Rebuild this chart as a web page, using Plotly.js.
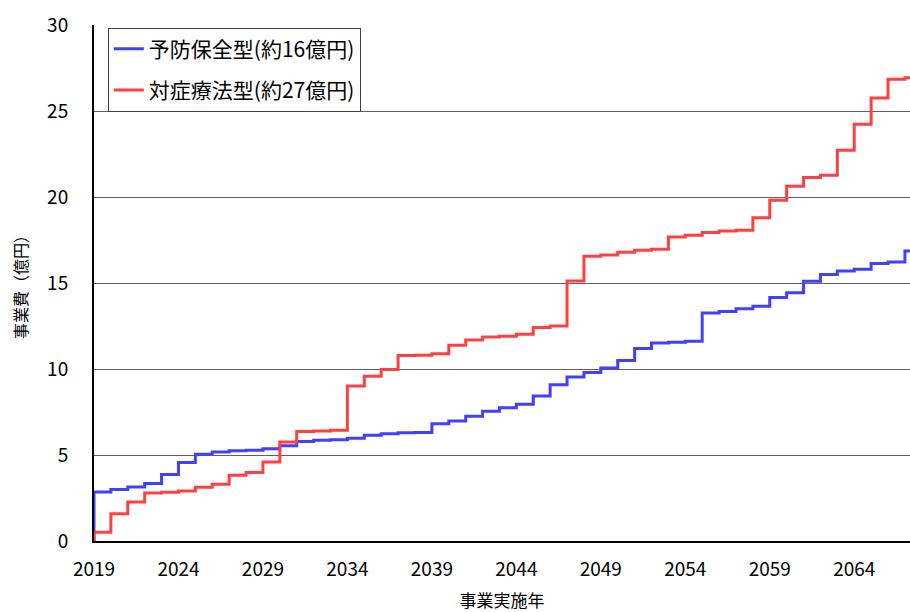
<!DOCTYPE html>
<html>
<head>
<meta charset="utf-8">
<script src="https://cdn.plot.ly/plotly-3.0.1.min.js"></script>
<style>html,body{margin:0;padding:0;background:#fff;}#chart{width:910px;height:612px;}</style>
</head>
<body>
<div id="chart"></div>
<script>
// Years (one value per year, drawn as steps)
const years = [];
for (let y = 2019; y <= 2067; y++) years.push(y);

// 予防保全型 cumulative cost (億円)
const preventive = [
  2.85, 3.00, 3.14, 3.34, 3.86, 4.56, 5.04, 5.17, 5.24, 5.27,
  5.37, 5.54, 5.78, 5.86, 5.89, 5.97, 6.15, 6.24, 6.29, 6.31,
  6.82, 6.98, 7.25, 7.55, 7.75, 7.95, 8.43, 9.09, 9.53, 9.79,
  10.06, 10.50, 11.19, 11.51, 11.55, 11.61, 13.26, 13.35, 13.51, 13.65,
  14.15, 14.44, 15.10, 15.49, 15.70, 15.80, 16.13, 16.22, 16.86
];

// 対症療法型 cumulative cost (億円)
const reactive = [
  0.51, 1.59, 2.27, 2.79, 2.83, 2.91, 3.12, 3.30, 3.82, 3.98,
  4.59, 5.75, 6.36, 6.40, 6.44, 9.01, 9.58, 9.97, 10.78, 10.80,
  10.88, 11.38, 11.68, 11.86, 11.90, 12.02, 12.41, 12.50, 15.12, 16.55,
  16.63, 16.79, 16.90, 16.96, 17.67, 17.77, 17.93, 18.02, 18.06, 18.79,
  19.81, 20.62, 21.13, 21.26, 22.72, 24.23, 25.76, 26.84, 26.94
];

const seriesNames = ['予防保全型(約16億円)', '対症療法型(約27億円)'];
const tickYears = [2019, 2024, 2029, 2034, 2039, 2044, 2049, 2054, 2059, 2064];
const startValue = 0;

function stepXY(vals) {
  // start from 0 at the first year, each year's value holds until the next year
  const x = [years[0]].concat(years, [years[years.length - 1] + 1]);
  const y = [startValue].concat(vals, [vals[vals.length - 1]]);
  return {x, y};
}

const font = '"Noto Sans CJK JP", "Noto Sans", sans-serif';
const b = stepXY(preventive), r = stepXY(reactive);

const traces = [
  {x: b.x, y: b.y, type: 'scatter', mode: 'lines', name: seriesNames[0], legendgroup: 'a',
   line: {shape: 'hv', color: 'rgb(64,64,255)', width: 3}},
  {x: r.x, y: r.y, type: 'scatter', mode: 'lines', name: seriesNames[1], legendgroup: 'b',
   line: {shape: 'hv', color: 'rgb(255,64,64)', width: 3}}
];

const layout = {
  width: 910, height: 612,
  margin: {l: 94, r: 0, t: 25, b: 71, pad: 0},
  paper_bgcolor: '#fff', plot_bgcolor: '#fff',
  font: {family: font, color: '#000', size: 18},
  showlegend: true,
  legend: {
    x: 0.017, y: 0.995, xanchor: 'left', yanchor: 'top',
    bgcolor: '#fff', bordercolor: '#404040', borderwidth: 1,
    font: {family: font, size: 21, color: '#000'},
    traceorder: 'grouped', tracegroupgap: 11
  },
  xaxis: {
    range: [2019, 2067.3], tickvals: tickYears, ticktext: tickYears.map(String),
    showgrid: false, zeroline: false, showline: true, linecolor: '#000', linewidth: 2,
    ticks: '', ticklabelstandoff: 10, tickfont: {family: font, size: 19},
    title: {text: '事業実施年', font: {family: font, size: 17}, standoff: 20}
  },
  yaxis: {
    range: [0, 30], dtick: 5, tick0: 0,
    showgrid: true, gridcolor: '#606060', gridwidth: 1,
    zeroline: false, showline: true, linecolor: '#000', linewidth: 2,
    ticks: '', ticklabelstandoff: 20, tickfont: {family: font, size: 19},
    title: {text: '事業費（億円）', font: {family: font, size: 16}, standoff: 16}
  }
};

Plotly.newPlot('chart', traces, layout, {displayModeBar: false, staticPlot: true});
</script>
</body>
</html>
